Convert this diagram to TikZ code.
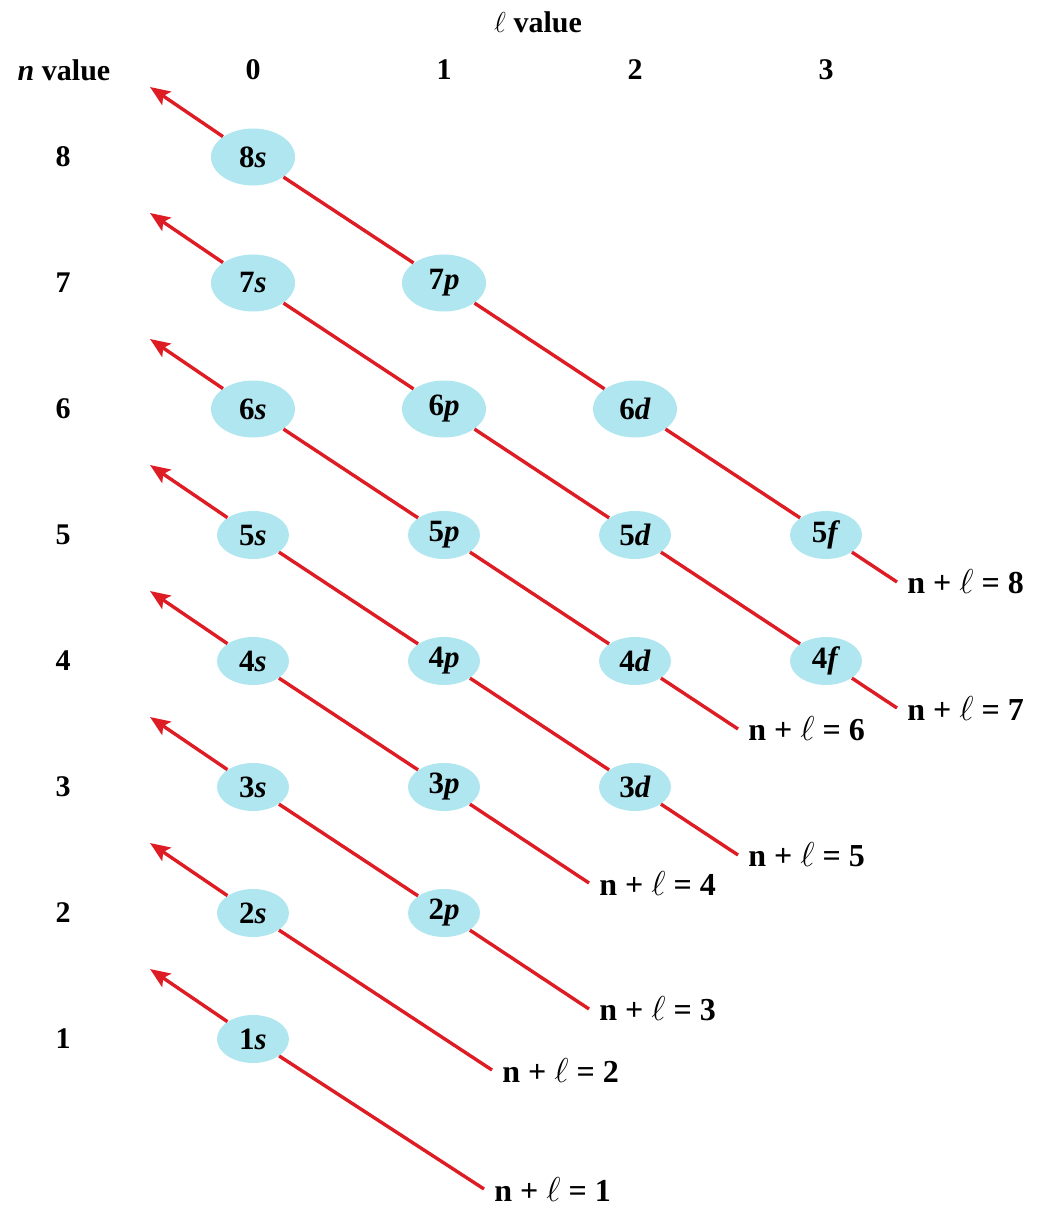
\documentclass[tikz,border=0pt]{standalone}
\usepackage{fontspec}
\setmainfont{Liberation Serif}
\usetikzlibrary{shapes.geometric,arrows.meta}
\definecolor{orbfill}{RGB}{176,230,239}
\definecolor{lnred}{RGB}{222,28,36}
\begin{document}
\begin{tikzpicture}[x=0.5pt,y=-0.5pt,
  orb/.style={ellipse,fill=orbfill,inner sep=0pt,minimum width=36pt,minimum height=24pt,
    font=\fontsize{15.5}{17}\selectfont\bfseries},
  orbbig/.style={orb,minimum width=42pt,minimum height=28.5pt},
  ln/.style={draw=lnred,line width=1.7pt},
  arr/.style={ln,-{Stealth[length=10pt,width=8pt,inset=2pt]}},
  lab/.style={anchor=west,inner sep=0pt,xshift=5pt,font=\fontsize{16}{18}\selectfont\bfseries},
  hdr/.style={inner sep=0pt,font=\fontsize{15}{17}\selectfont\bfseries}]
\useasboundingbox (0,0) rectangle (1037,1208);
% headers
\node[hdr] (lval) at (538,22) {$\ell$ value};
\node[hdr] (nval) at (64,70) {\textit{n} value};
\node[hdr] (c0) at (253,70) {0};
\node[hdr] (c1) at (444,70) {1};
\node[hdr] (c2) at (635,70) {2};
\node[hdr] (c3) at (826,70) {3};
\node[hdr] (r8) at (63,157) {8};
\node[hdr] (r7) at (63,283) {7};
\node[hdr] (r6) at (63,409) {6};
\node[hdr] (r5) at (63,535) {5};
\node[hdr] (r4) at (63,661) {4};
\node[hdr] (r3) at (63,787) {3};
\node[hdr] (r2) at (63,913) {2};
\node[hdr] (r1) at (63,1039) {1};
% orbitals
\node[orbbig] (o8s) at (253,157) {8\textit{s}};
\node[orbbig] (o7s) at (253,283) {7\textit{s}};
\node[orbbig] (o7p) at (444,283) {7\textit{p}};
\node[orbbig] (o6s) at (253,409) {6\textit{s}};
\node[orbbig] (o6p) at (444,409) {6\textit{p}};
\node[orbbig] (o6d) at (635,409) {6\textit{d}};
\node[orb] (o5s) at (253,535) {5\textit{s}};
\node[orb] (o5p) at (444,535) {5\textit{p}};
\node[orb] (o5d) at (635,535) {5\textit{d}};
\node[orb] (o5f) at (826,535) {5\textit{f}};
\node[orb] (o4s) at (253,661) {4\textit{s}};
\node[orb] (o4p) at (444,661) {4\textit{p}};
\node[orb] (o4d) at (635,661) {4\textit{d}};
\node[orb] (o4f) at (826,661) {4\textit{f}};
\node[orb] (o3s) at (253,787) {3\textit{s}};
\node[orb] (o3p) at (444,787) {3\textit{p}};
\node[orb] (o3d) at (635,787) {3\textit{d}};
\node[orb] (o2s) at (253,913) {2\textit{s}};
\node[orb] (o2p) at (444,913) {2\textit{p}};
\node[orb] (o1s) at (253,1039) {1\textit{s}};
% arrow tips
\coordinate (t8) at (150,87);
\coordinate (t7) at (150,213);
\coordinate (t6) at (150,339);
\coordinate (t5) at (150,465);
\coordinate (t4) at (150,591);
\coordinate (t3) at (150,717);
\coordinate (t2) at (150,843);
\coordinate (t1) at (150,969);
% line ends
\coordinate (e1) at (484,1189);
\coordinate (e2) at (492,1070);
\coordinate (e3) at (589,1009);
\coordinate (e4) at (589,883);
\coordinate (e5) at (738,855);
\coordinate (e6) at (738,729);
\coordinate (e7) at (897,708);
\coordinate (e8) at (897,582);
% arrows
\foreach \k in {1,...,8}{\draw[arr] (o\k s) -- (t\k);}
% diagonals
\draw[ln] (o1s) -- (e1);
\draw[ln] (o2s) -- (e2);
\draw[ln] (o3s) -- (o2p) -- (e3);
\draw[ln] (o4s) -- (o3p) -- (e4);
\draw[ln] (o5s) -- (o4p) -- (o3d) -- (e5);
\draw[ln] (o6s) -- (o5p) -- (o4d) -- (e6);
\draw[ln] (o7s) -- (o6p) -- (o5d) -- (o4f) -- (e7);
\draw[ln] (o8s) -- (o7p) -- (o6d) -- (o5f) -- (e8);
% labels
\node[lab] (l1) at (e1) {n + $\ell$ = 1};
\node[lab] (l2) at (e2) {n + $\ell$ = 2};
\node[lab] (l3) at (e3) {n + $\ell$ = 3};
\node[lab] (l4) at (e4) {n + $\ell$ = 4};
\node[lab] (l5) at (e5) {n + $\ell$ = 5};
\node[lab] (l6) at (e6) {n + $\ell$ = 6};
\node[lab] (l7) at (e7) {n + $\ell$ = 7};
\node[lab] (l8) at (e8) {n + $\ell$ = 8};
\end{tikzpicture}
\end{document}
